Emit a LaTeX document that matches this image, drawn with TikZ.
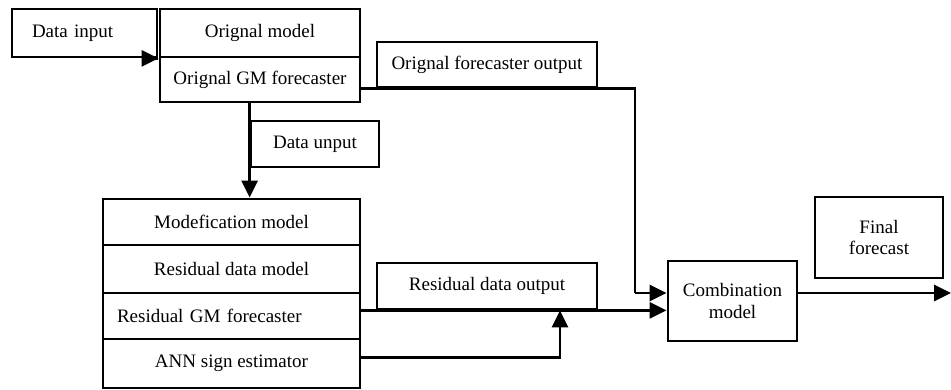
\documentclass[tikz,border=0pt]{standalone}
\usepackage{fontspec}
\setmainfont{Liberation Serif}
\usetikzlibrary{arrows.meta}
\newcommand{\blkfont}{\fontsize{19}{21.5}\selectfont}
\tikzstyle{blk} = [draw, line width=2.8pt, inner sep=0pt, align=center, font=\blkfont]
\tikzstyle{arr} = [line width=2.8pt, -{Triangle[length=17pt,width=16pt]}]
\tikzstyle{wire} = [line width=2.8pt]

\begin{document}
\begin{tikzpicture}[x=1pt,y=1pt]
\useasboundingbox (0,0) rectangle (951,390);

    \node[blk, minimum height=48pt, text width=105pt, inner xsep=20pt, align=left] (datain) at (84.5,357) {\raisebox{4pt}{Data input}};
    \node[blk, minimum width=200pt, minimum height=48pt] (origmodel) at (260,357) {Orignal model};
    \node[blk, minimum width=200pt, minimum height=45pt] (origgm) at (260,310.5) {Orignal GM forecaster};
    \node[blk, minimum width=220pt, minimum height=45pt] (origout) at (487,325.5) {Orignal forecaster output};
    \node[blk, minimum width=128pt, minimum height=46pt] (dataunput) at (315,246) {Data unput};

	% lower stack
    \node[blk, minimum width=257pt, minimum height=46pt] (modif) at (231.5,168) {Modefication model};
    \node[blk, minimum width=257pt, minimum height=48pt] (resdata) at (231.5,121) {Residual data model};
    \node[blk, minimum height=46pt, text width=229pt, inner xsep=14pt, align=left] (resgm) at (231.5,74) {Residual GM forecaster};
    \node[blk, minimum width=257pt, minimum height=49pt] (ann) at (231.5,26.5) {ANN sign estimator};

    \node[blk, minimum width=220pt, minimum height=46pt] (resout) at (487,104) {Residual data output};
    \node[blk, minimum width=129pt, minimum height=80pt] (comb) at (732.5,89) {Combination\\model};
    \node[blk, minimum width=128pt, minimum height=81pt] (final) at (879,152.5) {Final\\forecast};

    \coordinate (bend) at (635,0);
    \coordinate (annturn) at (560,0);
    \coordinate (out) at (951,97);

    \draw[arr] (datain.south east) -- (origmodel.south west);
    \draw[arr] (dataunput.west |- origgm.south) -- (dataunput.west |- modif.north);
    \draw[wire] (origgm.east |- origout.south) -- (bend |- origout.south) -- (bend |- 0,97);
    \draw[arr] (bend |- 0,97) -- ([yshift=8pt]comb.west);
    \draw[arr] (resgm.east |- resout.south) -- (comb.west |- resout.south);
    \draw[arr] ([yshift=6pt]ann.east) -| (annturn |- resout.south);
    \draw[arr] ([yshift=8pt]comb.east) -- (out);
\end{tikzpicture}
\end{document}
